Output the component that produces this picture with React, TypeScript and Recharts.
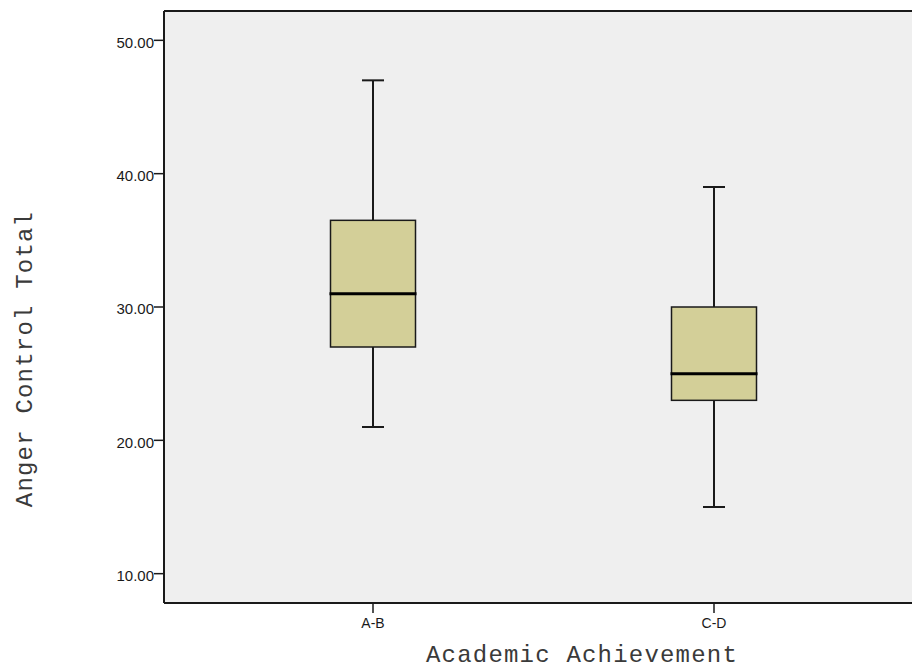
import React from "react";
import { Bar, CartesianGrid, ComposedChart, ReferenceLine, XAxis, YAxis } from "recharts";

const CATEGORIES = ["A-B", "C-D"];
const MIN_VALUES = [21, 15];
const Q1_VALUES = [27, 23];
const MEDIAN_VALUES = [31, 25];
const Q3_VALUES = [36.5, 30];
const MAX_VALUES = [47, 39];
const Y_TICKS = [10, 20, 30, 40, 50];
const Y_DOMAIN: [number, number] = [7.8, 52.2];

const data = CATEGORIES.map((name, i) => ({
  name,
  range: [MIN_VALUES[i], MAX_VALUES[i]],
  min: MIN_VALUES[i],
  q1: Q1_VALUES[i],
  median: MEDIAN_VALUES[i],
  q3: Q3_VALUES[i],
  max: MAX_VALUES[i],
}));

const INK = "#1a1a1a";
const BOX_FILL = "#d3cf98";
const PLOT_BG = "#efefef";
const SANS = "'Liberation Sans', Arial, sans-serif";
const MONO = "'Liberation Mono', 'Courier New', monospace";

// draws whiskers, box and median inside the [min, max] range bar
function BoxShape(props: any) {
  const { x, y, width, height, payload } = props;
  const top = Math.min(y, y + height);
  const bottom = Math.max(y, y + height);
  const { min, max } = payload;
  const py = (v: number) => bottom - ((v - min) / (max - min)) * (bottom - top);
  const cx = x + width / 2;
  const cap = 11;
  return (
    <g>
      <line x1={cx} x2={cx} y1={py(max)} y2={py(payload.q3)} stroke={INK} strokeWidth={2} />
      <line x1={cx} x2={cx} y1={py(payload.q1)} y2={py(min)} stroke={INK} strokeWidth={2} />
      <line x1={cx - cap} x2={cx + cap} y1={py(max)} y2={py(max)} stroke={INK} strokeWidth={2} />
      <line x1={cx - cap} x2={cx + cap} y1={py(min)} y2={py(min)} stroke={INK} strokeWidth={2} />
      <rect
        x={x}
        y={py(payload.q3)}
        width={width}
        height={py(payload.q1) - py(payload.q3)}
        fill={BOX_FILL}
        stroke={INK}
        strokeWidth={1.5}
      />
      <line
        x1={x - 1}
        x2={x + width + 1}
        y1={py(payload.median)}
        y2={py(payload.median)}
        stroke="#000"
        strokeWidth={3}
      />
    </g>
  );
}

export default function App() {
  return (
    <div style={{ position: "fixed", left: 0, top: 0, width: 912, height: 670, overflow: "hidden", background: "#fff" }}>
      <ComposedChart width={926} height={670} data={data} margin={{ top: 11, right: 3, left: 0, bottom: 0 }}>
        <CartesianGrid horizontal={false} vertical={false} fill={PLOT_BG} />
        <XAxis
          dataKey="name"
          height={67}
          interval={0}
          padding={{ left: 38.5, right: 38.5 }}
          axisLine={{ stroke: INK, strokeWidth: 2 }}
          tickLine={{ stroke: INK, strokeWidth: 1.5 }}
          tickSize={10}
          tickMargin={5}
          tick={{ fill: INK, fontSize: 14, fontFamily: SANS }}
          label={{
            content: () => (
              <text x={582} y={662} textAnchor="middle" fontFamily={MONO} fontSize={24} letterSpacing={1.2} fill="#3a3a3a">
                Academic Achievement
              </text>
            ),
          }}
        />
        <YAxis
          type="number"
          width={164}
          domain={Y_DOMAIN}
          ticks={Y_TICKS}
          tickFormatter={(v: number) => v.toFixed(2)}
          axisLine={{ stroke: INK, strokeWidth: 2 }}
          tickLine={{ stroke: INK, strokeWidth: 1.5 }}
          tickSize={10}
          tickMargin={0}
          tick={{ fill: INK, fontSize: 15, fontFamily: SANS, dy: 2 }}
          label={{
            content: () => (
              <text
                x={32}
                y={359}
                transform="rotate(-90 32 359)"
                textAnchor="middle"
                fontFamily={MONO}
                fontSize={24}
                letterSpacing={1.2}
                fill="#3a3a3a"
              >
                Anger Control Total
              </text>
            ),
          }}
        />
        <ReferenceLine y={Y_DOMAIN[1]} stroke={INK} strokeWidth={2} />
        <Bar dataKey="range" barSize={85} shape={<BoxShape />} isAnimationActive={false} />
      </ComposedChart>
    </div>
  );
}
